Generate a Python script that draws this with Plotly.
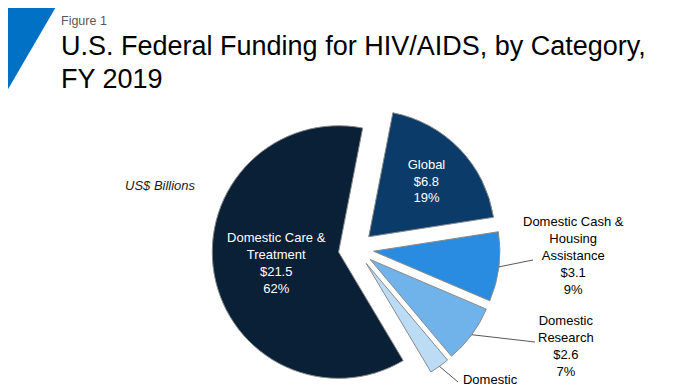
import math
import plotly.graph_objects as go

labels = ["Global", "Domestic Cash & Housing Assistance", "Domestic Research",
          "Domestic Prevention", "Domestic Care & Treatment"]
label_text = ["Global", "Domestic Cash &<br>Housing<br>Assistance", "Domestic<br>Research",
              "Domestic<br>Prevention", "Domestic Care &<br>Treatment"]
values = [6.8, 3.1, 2.6, 0.9, 21.5]
colors = ["#0b3c69", "#2a8ce0", "#70b2ea", "#bcdcf6", "#0a2036"]
inside = [True, False, False, False, True]

W, H = 696, 385
FONT = "Arial, Liberation Sans, sans-serif"

# pie geometry (figure pixels)
ROT = 11
PULL = 0.14
CX, CY, HALF = 348, 241, 144
R = HALF / (1 + PULL)

# outside label layout (figure pixels): leader-line end, label centre
out_layout = {
    1: dict(end=(525, 252), text=(565.5, 247)),
    2: dict(end=(527, 334), text=(558, 338)),
    3: dict(end=(450, 374), text=(482, 397)),
}


def px(x):
    return x / W


def py(y):
    return 1 - y / H


fig = go.Figure()
fig.add_trace(go.Pie(
    labels=labels,
    values=values,
    customdata=label_text,
    texttemplate="%{customdata}<br>$%{value:.1f}<br>%{percent:.0%}",
    textposition=["inside" if i else "none" for i in inside],
    insidetextorientation="horizontal",
    textfont=dict(family=FONT, size=13, color="white"),
    marker=dict(colors=colors, line=dict(color="#8a8a8a", width=1)),
    sort=False,
    direction="clockwise",
    rotation=ROT,
    pull=PULL,
    showlegend=False,
    hoverinfo="skip",
    domain=dict(x=[px(CX - HALF), px(CX + HALF)], y=[py(CY + HALF), py(CY - HALF)]),
))

total = sum(values)
shapes = [dict(type="path", xref="paper", yref="paper",
               path=f"M 0 1 L {px(47.3)} 1 L 0 {py(81.3)} Z",
               fillcolor="#0071c5", line=dict(width=0))]
annotations = [
    dict(text="Figure 1", xref="paper", yref="paper", x=px(51), y=py(4),
         xanchor="left", yanchor="top", showarrow=False,
         font=dict(family=FONT, size=12.5, color="#595959")),
    dict(text="U.S. Federal Funding for HIV/AIDS, by Category,",
         xref="paper", yref="paper", x=px(51), y=py(21), align="left",
         xanchor="left", yanchor="top", showarrow=False,
         font=dict(family=FONT, size=27, color="black")),
    dict(text="FY 2019",
         xref="paper", yref="paper", x=px(51), y=py(54), align="left",
         xanchor="left", yanchor="top", showarrow=False,
         font=dict(family=FONT, size=27, color="black")),
    dict(text="<i>US$ Billions</i>", xref="paper", yref="paper", x=px(115), y=py(177),
         xanchor="left", yanchor="middle", showarrow=False,
         font=dict(family=FONT, size=13, color="#1a1a1a")),
]

cum = 0.0
for i, v in enumerate(values):
    mid = math.radians(ROT + 360 * (cum + v / 2) / total)
    cum += v
    if inside[i]:
        continue
    ax = CX + R * (1 + PULL) * math.sin(mid)
    ay = CY - R * (1 + PULL) * math.cos(mid)
    ex, ey = out_layout[i]["end"]
    tx, ty = out_layout[i]["text"]
    shapes.append(dict(type="line", xref="paper", yref="paper",
                       x0=px(ax), y0=py(ay), x1=px(ex), y1=py(ey),
                       line=dict(color="#595959", width=1)))
    pct = round(100 * v / total)
    annotations.append(dict(
        text=f"{label_text[i]}<br>${v:.1f}<br>{pct}%",
        xref="paper", yref="paper", x=px(tx), y=py(ty),
        xanchor="center", yanchor="middle", showarrow=False, align="center",
        font=dict(family=FONT, size=13, color="black")))

fig.update_layout(
    width=W, height=H,
    margin=dict(l=0, r=0, t=0, b=0),
    paper_bgcolor="white",
    plot_bgcolor="white",
    font=dict(family=FONT),
    shapes=shapes,
    annotations=annotations,
)

fig.write_html("out.html")
